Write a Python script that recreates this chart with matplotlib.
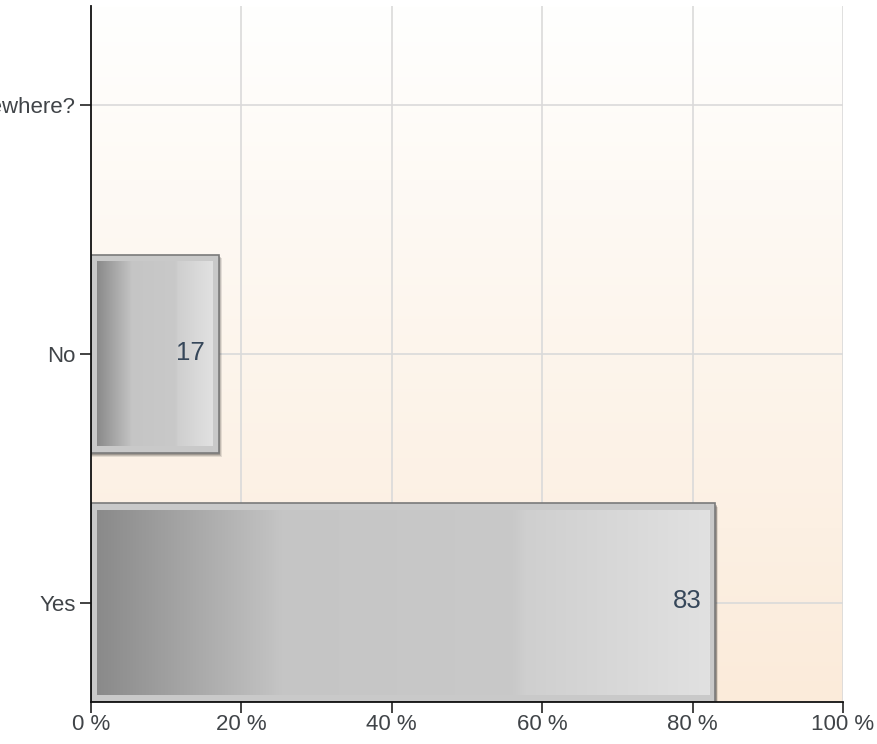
import numpy as np
import matplotlib
matplotlib.use("Agg")
import matplotlib.pyplot as plt
from matplotlib.patches import Rectangle

plt.rcParams['font.family'] = ['Liberation Sans', 'DejaVu Sans']

# data
categories = ['Yes', 'No', 'Somewhere?']
values = [83, 17, 0]
xticks = [0, 20, 40, 60, 80, 100]

fig = plt.figure(figsize=(8.78, 7.44), dpi=100)
ax = fig.add_axes([91 / 878, 42 / 744, 752 / 878, 696 / 744])

ypos = np.arange(len(categories))

# background gradient (light peach at bottom -> white at top)
bot = np.array([251, 235, 218]) / 255
top = np.array([255, 255, 254]) / 255
t = np.linspace(0, 1, 256)[:, None]
bg = (bot * (1 - t) + top * t)[:, None, :]
ax.imshow(bg, extent=[0, 100, -0.4, 2.4], aspect='auto', zorder=0,
          origin='lower')

# grid
for x in xticks[1:]:
    ax.axvline(x, color='#dadada', lw=1.2, zorder=1)
for y in ypos:
    ax.axhline(y, color='#dadada', lw=1.2, zorder=1)

# bar gradient: dark ramp, flat middle, lighter right section
stops = [0.0, 0.28, 0.3, 0.68, 0.7, 1.0]
levels = [138, 192, 197, 201, 207, 225]
u = np.linspace(0, 1, 300)
g = np.interp(u, stops, levels) / 255
grad = np.stack([g, g, g], axis=-1)[None, :, :]

h = 0.8
for y, v in zip(ypos, values):
    if v <= 0:
        continue
    y0 = y - h / 2
    # soft shadow
    for k, a in enumerate([0.10, 0.14, 0.18]):
        off = 0.7 - k * 0.2
        ax.add_patch(Rectangle((0, y0 - off * 0.02), v + off * 0.6, h,
                               facecolor='black', alpha=a, lw=0, zorder=2))
    ax.add_patch(Rectangle((0, y0), v, h, facecolor='#c9c9c9',
                           edgecolor='#7a7a7a', lw=1.2, zorder=3))
    ix = 0.8
    iy = 0.028
    ax.imshow(grad, extent=[ix, v - ix, y0 + iy, y0 + h - iy],
              aspect='auto', zorder=4, interpolation='bilinear')
    ax.annotate(str(v), (v, y), xytext=(-10, 1), textcoords='offset points',
                ha='right', va='center', fontsize=18.5, color='#36475a',
                zorder=5)

ax.set_xlim(0, 100)
ax.set_ylim(-0.4, 2.4)

ax.set_yticks(ypos)
ax.set_yticklabels(categories)
ax.set_xticks(xticks)
ax.set_xticklabels([f'{x} %' for x in xticks])
ax.tick_params(axis='both', direction='out', length=8, width=1.2,
               labelsize=16, labelcolor='#404448', color='#222222', pad=3)
ax.tick_params(axis='x', pad=1)

for s in ['top', 'right']:
    ax.spines[s].set_visible(False)
for s in ['left', 'bottom']:
    ax.spines[s].set_color('#111111')
    ax.spines[s].set_linewidth(1.3)
    ax.spines[s].set_zorder(6)

fig.savefig('out.png', dpi=100, facecolor='white')
